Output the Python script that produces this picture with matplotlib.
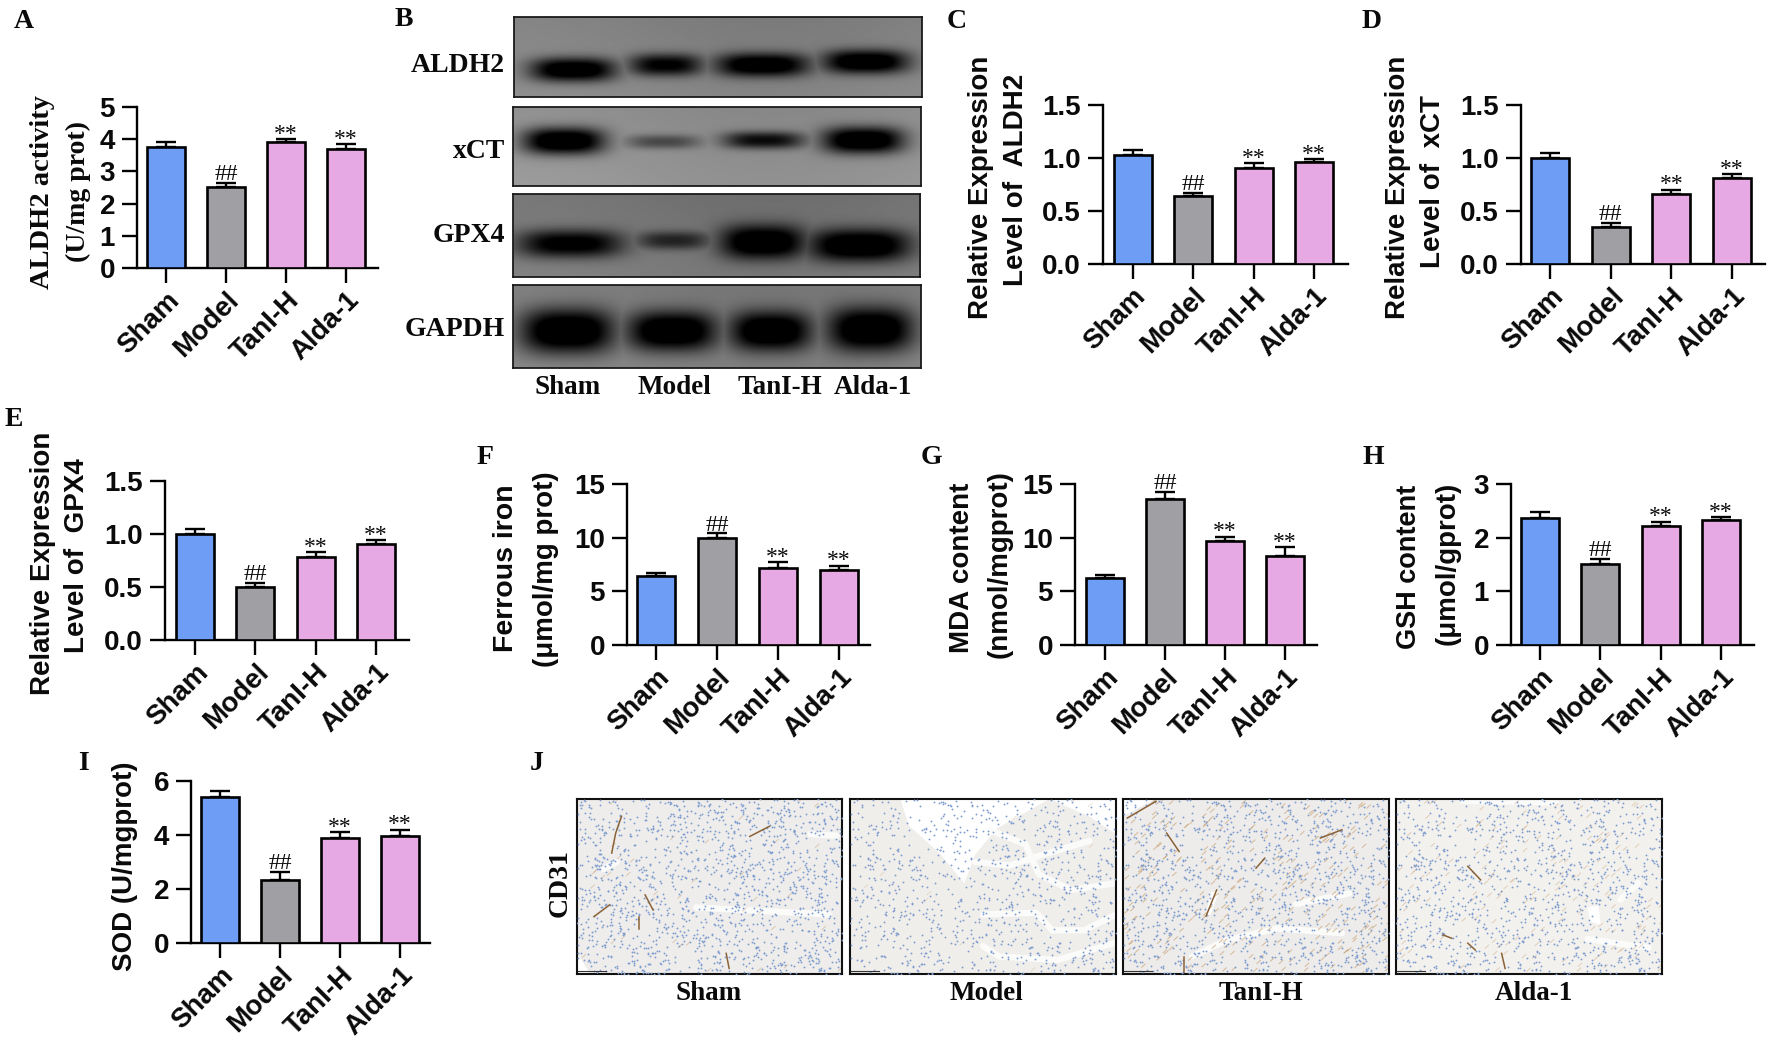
import matplotlib
matplotlib.use("Agg")
import matplotlib.pyplot as plt
import numpy as np
from matplotlib.collections import LineCollection

W = 1772
H = 1041
SANS = "Liberation Sans"
SERIF = "Liberation Serif"

groups = ["Sham", "Model", "TanI-H", "Alda-1"]
colors = ["#6E9DF6", "#A0A0A4", "#E6A9E4", "#E6A9E4"]
marks = ["", "##", "**", "**"]

# values
aldh2_activity = [3.75, 2.52, 3.90, 3.70]
aldh2_activity_err = [0.15, 0.13, 0.10, 0.15]
aldh2_expr = [1.03, 0.64, 0.91, 0.96]
aldh2_expr_err = [0.05, 0.03, 0.04, 0.03]
xct_expr = [1.00, 0.35, 0.66, 0.81]
xct_expr_err = [0.05, 0.04, 0.04, 0.04]
gpx4_expr = [1.00, 0.50, 0.78, 0.91]
gpx4_expr_err = [0.05, 0.04, 0.05, 0.03]
ferrous = [6.4, 10.0, 7.2, 7.0]
ferrous_err = [0.3, 0.4, 0.5, 0.4]
mda = [6.2, 13.6, 9.7, 8.3]
mda_err = [0.3, 0.7, 0.4, 0.8]
gsh = [2.37, 1.51, 2.21, 2.32]
gsh_err = [0.10, 0.10, 0.09, 0.06]
sod = [5.4, 2.35, 3.9, 3.95]
sod_err = [0.22, 0.28, 0.20, 0.25]

ticks_5 = [0, 1, 2, 3, 4, 5]
ticks_15 = [0.0, 0.5, 1.0, 1.5]
ticks_iron = [0, 5, 10, 15]
ticks_3 = [0, 1, 2, 3]
ticks_6 = [0, 2, 4, 6]

# band darkness per lane, one list per blot row
blot_rows = ["ALDH2", "xCT", "GPX4", "GAPDH"]
blot_aldh2 = [0.95, 0.80, 0.95, 0.97]
blot_xct = [0.98, 0.38, 0.72, 0.98]
blot_gpx4 = [0.85, 0.55, 1.00, 1.00]
blot_gapdh = [1.00, 1.00, 1.00, 1.00]


def fx(x):
    return x / W


def fy(y):
    return 1 - y / H


def label(x, y, s, size=20, family=SANS, rot=0, ha="center"):
    fig.text(fx(x), fy(y), s, fontsize=size, family=family, fontweight="bold",
             rotation=rot, ha=ha, va="center", color="#0a0a0a")


def bar_panel(x0, x1, top, bottom, centers, vals, errs, yticks, fmt="%g"):
    ax = fig.add_axes([fx(x0), fy(bottom), (x1 - x0) / W, (bottom - top) / H])
    step = (centers[3] - centers[0]) / 3
    ax.set_xlim((x0 - centers[0]) / step, (x1 - centers[0]) / step)
    ax.set_ylim(0, yticks[-1])
    pos = np.arange(4)
    ax.bar(pos, vals, width=38 / step, color=colors, edgecolor="black", linewidth=1.9, zorder=3)
    ax.errorbar(pos, vals, yerr=[[0] * 4, errs], fmt="none", ecolor="black",
                elinewidth=1.7, capsize=7, capthick=1.7, zorder=2)
    for i in range(4):
        if marks[i]:
            off = 2 if marks[i] == "##" else -0.5
            ax.annotate(marks[i], (i, vals[i] + errs[i]), xytext=(0, off), textcoords="offset points",
                        ha="center", va="baseline", fontsize=17, family=SERIF, color="#0a0a0a")
    for side in ["top", "right"]:
        ax.spines[side].set_visible(False)
    for side in ["left", "bottom"]:
        ax.spines[side].set_linewidth(1.7)
    ax.set_xticks(pos)
    ax.set_xticklabels(groups, rotation=45, ha="right", va="top", rotation_mode="anchor",
                       fontsize=20, family=SANS, fontweight="bold", color="#0a0a0a")
    ax.set_yticks(yticks)
    ax.set_yticklabels([fmt % t for t in yticks], fontsize=20, family=SANS,
                       fontweight="bold", color="#0a0a0a")
    ax.tick_params(axis="both", length=10.8, width=1.7, pad=5)
    ax.tick_params(axis="x", pad=3)
    return ax


def blot(x0, x1, top, bottom, grey, dark, lane_x, lane_w, lane_y, lane_h):
    ax = fig.add_axes([fx(x0), fy(bottom), (x1 - x0) / W, (bottom - top) / H])
    xx, yy = np.meshgrid(np.linspace(0, 1, 400), np.linspace(0, 1, 120))
    img = grey + 0.04 * (yy - 0.5) + 0.02 * np.cos(5 * xx)
    shade = np.zeros_like(xx)
    for d, cx, hw, cy, hh in zip(dark, lane_x, lane_w, lane_y, lane_h):
        # rounded lozenge so the band ends taper like a real blot
        r = np.abs((xx - cx) / hw) ** 3 + np.abs((yy - cy) / hh) ** 2.4
        band = d * np.exp(-r)
        shade = np.maximum(shade, band)
    img = img * (1 - np.clip(shade * 1.3, 0, 1))
    ax.imshow(np.clip(img, 0, 1), cmap="gray", vmin=0, vmax=1, aspect="auto", extent=[0, 1, 1, 0])
    ax.set_xticks([])
    ax.set_yticks([])
    for s in ax.spines.values():
        s.set_linewidth(1.3)
        s.set_color("#1a1a1a")


def hash01(i, seed):
    # texture only, a fixed hash so the speckle has no lattice look
    return (np.sin(i * 12.9898 + seed * 78.233) * 43758.5453) % 1


def tissue(x0, x1, tone, nuclei, strokes, gaps, polys, brown, brown_alpha):
    ax = fig.add_axes([fx(x0), fy(974), (x1 - x0) / W, 175 / H])
    ax.set_facecolor(tone)
    ax.set_xlim(0, 1)
    ax.set_ylim(1, 0)
    for p in polys:
        ax.fill([q[0] for q in p], [q[1] for q in p], color="white", lw=0, zorder=1)
    for g in gaps:
        ax.plot([q[0] for q in g], [q[1] for q in g], color="#FBFBFA", lw=4.5,
                solid_capstyle="round", zorder=2)
    i = np.arange(1, nuclei + 1)
    nx = hash01(i, 1)
    ny = hash01(i, 2)
    ax.scatter(nx, ny, s=1.8, color="#7F9CCF", lw=0, zorder=3)
    if brown:
        j = np.arange(1, brown + 1)
        bx = hash01(j, 3)
        by = hash01(j, 4)
        segs = [[(a - 0.008, b + 0.011), (a + 0.008, b - 0.011)] for a, b in zip(bx, by)]
        ax.add_collection(LineCollection(segs, colors="#C8A276", linewidths=0.7, alpha=brown_alpha, zorder=2.5))
    for s in strokes:
        ax.plot([q[0] for q in s], [q[1] for q in s], color="#8A6238", lw=1.1, zorder=4)
    ax.plot([0.005, 0.11], [0.985, 0.985], color="#333333", lw=0.8, zorder=5)
    ax.set_xticks([])
    ax.set_yticks([])
    for s in ax.spines.values():
        s.set_linewidth(1.5)
        s.set_color("#111111")


fig = plt.figure(figsize=(W / 100, H / 100), dpi=100, facecolor="white")

# bar panels
bar_panel(137, 378, 107, 268, [166, 226, 286, 346], aldh2_activity, aldh2_activity_err, ticks_5)
bar_panel(1103, 1348, 105, 264, [1132.5, 1193, 1253, 1314], aldh2_expr, aldh2_expr_err, ticks_15, "%.1f")
bar_panel(1521, 1765, 105, 264, [1550, 1611, 1672, 1732], xct_expr, xct_expr_err, ticks_15, "%.1f")
bar_panel(165, 409, 481, 640, [195, 255, 315, 376], gpx4_expr, gpx4_expr_err, ticks_15, "%.1f")
bar_panel(627, 870, 484, 645, [656, 717, 778, 839], ferrous, ferrous_err, ticks_iron)
bar_panel(1075, 1317, 484, 645, [1105, 1165, 1225, 1285], mda, mda_err, ticks_iron)
bar_panel(1511, 1754, 484, 645, [1540, 1601, 1660, 1721], gsh, gsh_err, ticks_3)
bar_panel(191, 430, 781, 943, [220, 280, 339, 400], sod, sod_err, ticks_6)

# y labels
label(43, 192, "ALDH2 activity", 20.5, SERIF, 90)
label(78, 192, "(U/mg prot)", 20, SERIF, 90)
label(981, 187, "Relative Expression", 20, rot=90)
label(1016, 180, "Level of  ALDH2", 20, rot=90)
label(1398, 187, "Relative Expression", 20, rot=90)
label(1433, 182, "Level of  xCT", 20, rot=90)
label(43, 563, "Relative Expression", 20, rot=90)
label(77, 556, "Level of  GPX4", 20, rot=90)
label(506, 568, "Ferrous iron", 20.5, rot=90)
label(546, 569, "(μmol/mg prot)", 20, rot=90)
label(962, 568, "MDA content", 20, rot=90)
label(1000, 564, "(nmol/mgprot)", 20, rot=90)
label(1409, 567, "GSH content", 19.5, rot=90)
label(1448, 563, "(μmol/gprot)", 20, rot=90)
label(125, 866, "SOD (U/mgprot)", 20, rot=90)

# panel letters
for s, x, y in [("A", 24, 22), ("B", 404, 20), ("C", 957, 22), ("D", 1372, 22), ("E", 14, 419),
                ("F", 485, 458), ("G", 931, 458), ("H", 1373, 458), ("I", 83, 763), ("J", 537, 763)]:
    label(x, y, s, 20, SERIF)

# western blots
blot(514, 922, 17, 97, 0.52, blot_aldh2, [0.144, 0.372, 0.609, 0.863], [0.105, 0.09, 0.115, 0.105],
     [0.66, 0.60, 0.60, 0.56], [0.15, 0.14, 0.15, 0.15])
blot(513, 921, 107, 186, 0.57, blot_xct, [0.124, 0.368, 0.615, 0.859], [0.10, 0.09, 0.10, 0.10],
     [0.43, 0.44, 0.42, 0.42], [0.17, 0.09, 0.11, 0.17])
blot(513, 920, 194, 277, 0.47, blot_gpx4, [0.14, 0.393, 0.613, 0.85], [0.13, 0.09, 0.105, 0.125],
     [0.60, 0.56, 0.58, 0.62], [0.17, 0.11, 0.21, 0.20])
blot(513, 921, 285, 368, 0.50, blot_gapdh, [0.133, 0.39, 0.632, 0.877], [0.115, 0.11, 0.10, 0.105],
     [0.56, 0.56, 0.56, 0.54], [0.27, 0.24, 0.24, 0.27])

for s, y in zip(blot_rows, [65, 151, 235, 329]):
    label(505, y, s, 20, SERIF, ha="right")
for s, x in zip(groups, [568, 674, 780, 873]):
    label(x, 388, s, 19.5, SERIF)

# CD31 sections
tissue(577, 842, "#EEEDEB", 1500,
       [[(0.168, 0.099), (0.146, 0.195), (0.131, 0.309)], [(0.652, 0.214), (0.726, 0.156)],
        [(0.257, 0.548), (0.287, 0.634)], [(0.064, 0.672), (0.123, 0.605)],
        [(0.563, 0.882), (0.574, 0.968)], [(0.235, 0.672), (0.235, 0.74)]],
       [[(0.45, 0.62), (0.7, 0.64), (0.95, 0.66)], [(0.15, 0.36), (0.1, 0.4)], [(0.88, 0.2), (0.98, 0.21)]],
       [[(0, 0.88), (0.05, 1), (0, 1)]], 40, 0.5)
tissue(850, 1116, "#F0EEEA", 1000, [],
       [[(0.53, 0.18), (0.66, 0.26), (0.71, 0.43), (0.83, 0.52), (1.0, 0.48)],
        [(0.47, 0.36), (0.6, 0.38), (0.72, 0.32), (0.9, 0.24)],
        [(0.5, 0.66), (0.7, 0.65), (0.76, 0.75), (0.88, 0.75), (1.0, 0.66)],
        [(0.5, 0.84), (0.56, 0.9), (0.78, 0.92), (1.0, 0.82)]],
       [[(0.19, 0), (0.75, 0), (0.55, 0.17), (0.47, 0.32), (0.43, 0.48), (0.33, 0.3), (0.22, 0.15)],
        [(0.75, 0), (1, 0), (1, 0.2), (0.9, 0.1)]], 10, 0.3)
tissue(1123, 1389, "#EDECEA", 1300,
       [[(0.352, 0.52), (0.312, 0.67)], [(0.164, 0.195), (0.211, 0.30)], [(0.231, 0.90), (0.231, 0.99)],
        [(0.742, 0.223), (0.823, 0.176)], [(0.5, 0.395), (0.533, 0.338)], [(0.016, 0.109), (0.124, 0.013)]],
       [[(0.26, 0.90), (0.392, 0.805), (0.581, 0.739), (0.823, 0.767)], [(0.65, 0.6), (0.85, 0.54)]],
       [[(0, 0), (0.12, 0), (0, 0.1)], [(0.33, 0.53), (0.36, 0.53), (0.33, 0.66), (0.31, 0.67)]], 280, 0.7)
tissue(1396, 1662, "#F3F1ED", 1200,
       [[(0.177, 0.777), (0.21, 0.796)], [(0.27, 0.824), (0.298, 0.863)], [(0.397, 0.882), (0.41, 0.968)],
        [(0.27, 0.385), (0.318, 0.462)]],
       [[(0.843, 0.576), (0.91, 0.481)], [(0.25, 0.01), (0.6, 0.02)], [(0.72, 0.8), (0.95, 0.85)]],
       [[(0.72, 0.62), (0.76, 0.61), (0.77, 0.72), (0.73, 0.70)]], 160, 0.45)

for s, x in zip(groups, [709, 986, 1261, 1534]):
    label(x, 993, s, 19.5, SERIF)
label(560, 883, "CD31", 20, SERIF, 90)

fig.savefig("out.png", dpi=100)
